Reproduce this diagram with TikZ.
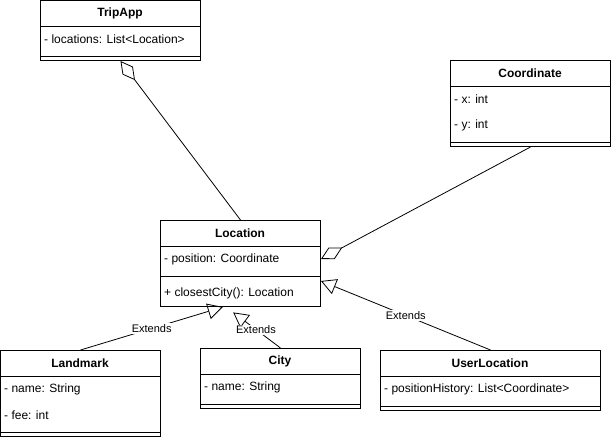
\documentclass[tikz,border=0pt]{standalone}
\usepackage{fontspec}
\setmainfont{Liberation Sans}
\usetikzlibrary{calc,arrows.meta}

\begin{document}
\begin{tikzpicture}[x=1pt,y=-1pt,
  classbox/.style={draw, line width=1pt, fill=white, anchor=north west, inner sep=0pt},
  classname/.style={font=\fontsize{12}{14}\selectfont\bfseries, inner sep=0pt},
  member/.style={font=\fontsize{12}{14}\selectfont, anchor=west, inner sep=0pt},
  sepline/.style={line width=1pt},
  aggr/.style={line width=0.8pt, arrows={Diamond[open,length=24pt,width=13pt]-}},
  extends/.style={line width=0.8pt, arrows={-Triangle[open,length=15pt,width=16pt]}},
  edgelabel/.style={fill=white, inner sep=1pt, font=\fontsize{11}{13}\selectfont}]

\useasboundingbox (0,0) rectangle (611,437);

% TripApp
\node[classbox, minimum width=160pt, minimum height=60pt] (tripapp) at (40,0) {};
\node[classname] (tripappname) at (120,13) {TripApp};
\draw[sepline] (40,26) -- (200,26);
\node[member] (tripapploc) at (44,39) {- locations: List<Location>};
\draw[sepline] (40,56) -- (200,56);

% Coordinate
\node[classbox, minimum width=160pt, minimum height=86pt] (coordinate) at (450,60) {};
\node[classname] (coordname) at (530,73) {Coordinate};
\draw[sepline] (450,86) -- (610,86);
\node[member] (coordx) at (454,99) {- x: int};
\node[member] (coordy) at (454,125) {- y: int};
\draw[sepline] (450,142) -- (610,142);

% Location
\node[classbox, minimum width=160pt, minimum height=86pt] (location) at (160,220) {};
\node[classname] (locname) at (240,233) {Location};
\draw[sepline] (160,246) -- (320,246);
\node[member] (locattr) at (164,259) {- position: Coordinate};
\draw[sepline] (160,276) -- (320,276);
\node[member] (locop) at (164,293) {+ closestCity(): Location};

% Landmark
\node[classbox, minimum width=160pt, minimum height=86pt] (landmark) at (0,350) {};
\node[classname] (landname) at (80,363) {Landmark};
\draw[sepline] (0,376) -- (160,376);
\node[member] (landattr) at (4,389) {- name: String};
\node[member] (landfee) at (4,415) {- fee: int};
\draw[sepline] (0,432) -- (160,432);

% City
\node[classbox, minimum width=160pt, minimum height=60pt] (city) at (200,348) {};
\node[classname] (cityname) at (280,361) {City};
\draw[sepline] (200,374) -- (360,374);
\node[member] (cityattr) at (204,387) {- name: String};
\draw[sepline] (200,404) -- (360,404);

% UserLocation
\node[classbox, minimum width=220pt, minimum height=60pt] (userloc) at (380,350) {};
\node[classname] (userlocname) at (490,363) {UserLocation};
\draw[sepline] (380,376) -- (600,376);
\node[member] (userlocattr) at (384,389) {- positionHistory: List<Coordinate>};
\draw[sepline] (380,406) -- (600,406);

% Aggregations
\draw[aggr] (tripapp.south) -- (location.north);
\draw[aggr] (location.east |- locattr) -- (coordinate.south);

% Generalizations
\draw[extends] (landmark.north) -- node[edgelabel] (landext) {Extends}
  ($(location.south west)!0.39!(location.south east)$);
\draw[extends, shorten >=9pt] (city.north) -- node[edgelabel, pos=0.45] (cityext) {Extends}
  ($(location.south west)!0.41!(location.south east)$);
\draw[extends] (userloc.north) -- node[edgelabel] (userlocext) {Extends}
  ($(location.south east)+(0,-26)$);

\end{tikzpicture}
\end{document}
